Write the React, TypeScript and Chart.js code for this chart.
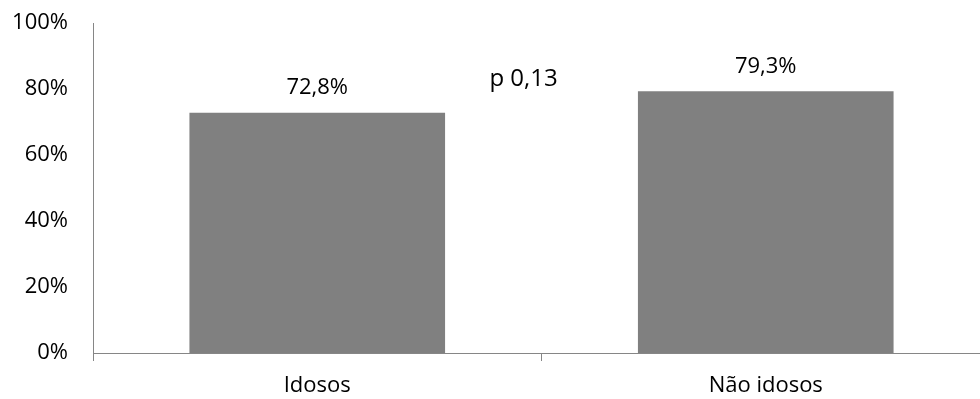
import React, { useEffect, useRef } from "react";
import { Chart, registerables } from "chart.js";

Chart.register(...registerables);

const categories = ["Idosos", "Não idosos"];
const values = [72.8, 79.3];
const valueLabels = ["72,8%", "79,3%"];
const yTicks = [0, 20, 40, 60, 80, 100];
const pValueText = "p 0,13";
const pValueX = 0.46; // category index position
const pValueY = 83; // percent

const FONT = "'Open Sans', sans-serif";
const AXIS_COLOR = "#868686";
const BAR_COLOR = "#808080";

const labelsPlugin = {
  id: "barLabels",
  afterDatasetsDraw(chart: any) {
    const { ctx, scales } = chart;
    const meta = chart.getDatasetMeta(0);
    ctx.save();
    ctx.fillStyle = "#000";
    ctx.textAlign = "center";
    ctx.textBaseline = "middle";
    ctx.font = `22px ${FONT}`;
    meta.data.forEach((bar: any, i: number) => {
      ctx.fillText(valueLabels[i], bar.x, bar.y - 25);
    });
    ctx.font = `24px ${FONT}`;
    ctx.fillText(
      pValueText,
      scales.x.getPixelForValue(pValueX),
      scales.y.getPixelForValue(pValueY)
    );
    ctx.restore();
  },
};

export default function App() {
  const canvasRef = useRef<HTMLCanvasElement>(null);

  useEffect(() => {
    if (!canvasRef.current) return;
    const chart = new Chart(canvasRef.current, {
      type: "bar",
      data: {
        labels: categories,
        datasets: [
          {
            data: values,
            backgroundColor: BAR_COLOR,
            categoryPercentage: 0.57,
            barPercentage: 1,
          },
        ],
      },
      options: {
        animation: false,
        responsive: false,
        maintainAspectRatio: false,
        layout: { padding: { top: 23, left: 0, right: 0, bottom: 0 } },
        plugins: { legend: { display: false }, tooltip: { enabled: false } },
        scales: {
          x: {
            grid: {
              display: true,
              drawOnChartArea: false,
              drawTicks: true,
              tickLength: 8,
              color: AXIS_COLOR,
              offset: true,
            },
            border: { display: true, color: AXIS_COLOR, width: 1 },
            ticks: { color: "#000", font: { family: FONT, size: 22 }, padding: 12 },
            afterFit(scale: any) {
              scale.height = 46;
              scale.paddingLeft = 0;
              scale.paddingRight = 0;
            },
          },
          y: {
            min: 0,
            max: 100,
            afterBuildTicks(scale: any) {
              scale.ticks = yTicks.map((v) => ({ value: v }));
            },
            grid: { display: false, drawTicks: false },
            border: { display: true, color: AXIS_COLOR, width: 1 },
            ticks: {
              color: "#000",
              font: { family: FONT, size: 22 },
              padding: 25,
              callback: (v: any) => `${v}%`,
            },
            afterFit(scale: any) {
              scale.width = 93;
              scale.paddingTop = 0;
              scale.paddingBottom = 0;
            },
          },
        },
      },
      plugins: [labelsPlugin],
    });
    return () => chart.destroy();
  }, []);

  return (
    <div
      style={{
        position: "fixed",
        left: 0,
        top: 0,
        width: 980,
        height: 399,
        overflow: "hidden",
        background: "#fff",
      }}
    >
      <canvas ref={canvasRef} width={990} height={399} style={{ display: "block" }} />
    </div>
  );
}
